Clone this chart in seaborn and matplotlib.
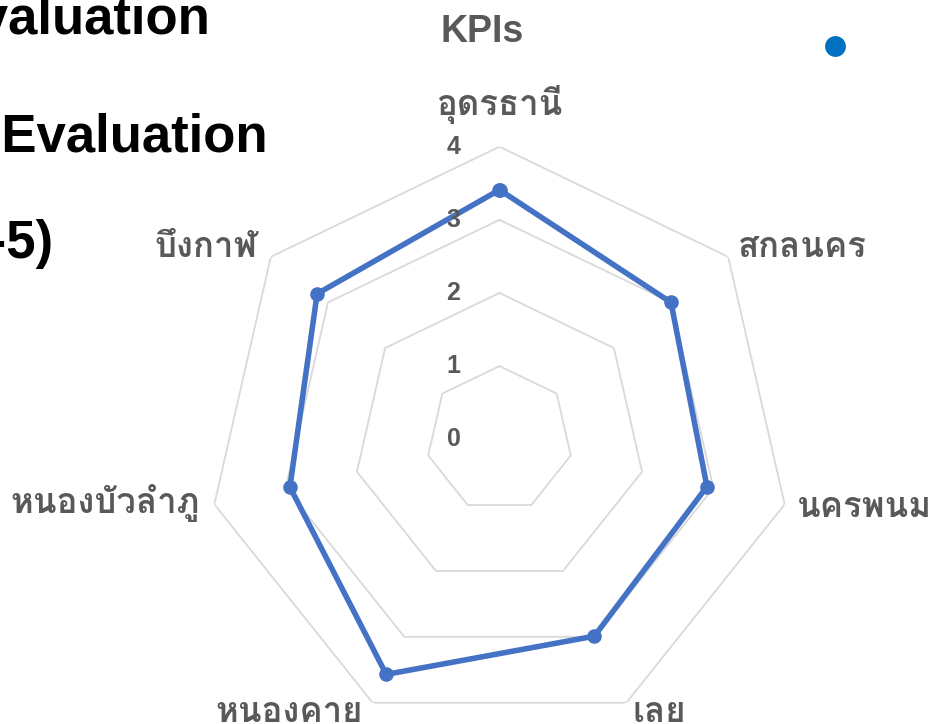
import numpy as np
import pandas as pd
import seaborn as sns
import matplotlib
matplotlib.use("Agg")
import matplotlib.pyplot as plt
from matplotlib import font_manager
from matplotlib.lines import Line2D
from fontTools.ttLib import TTFont

provinces = ["อุดรธานี", "สกลนคร", "นครพนม", "เลย", "หนองคาย", "หนองบัวลำภู", "บึงกาฬ"]
scores = [3.41, 3.00, 2.91, 2.99, 3.57, 2.94, 3.19]
levels = [0, 1, 2, 3, 4]
title_lines = ["Performance Evaluation", "KPI Evaluation", "Score (1-5)"]

W, H = 933, 724


def find_thai_font():
    # pick any installed family that has Thai glyphs
    for f in font_manager.fontManager.ttflist:
        try:
            tt = TTFont(f.fname, fontNumber=0, lazy=True)
            cmap = tt.getBestCmap()
            if cmap and 0x0E01 in cmap and 0x0E4C in cmap:
                return f.name
        except Exception:
            continue
    return "DejaVu Sans"


sns.set_theme(style="white")
thai_font = find_thai_font()
plt.rcParams['font.family'] = [thai_font, 'Liberation Sans', 'DejaVu Sans']

fig = plt.figure(figsize=(W / 100, H / 100), dpi=100)

cx, cy, R = 499.5, 439.2, 292.5
ax = fig.add_axes([(cx - R) / W, 1 - (cy + R) / H, 2 * R / W, 2 * R / H], projection='polar')
ax.set_theta_zero_location('N')
ax.set_theta_direction(-1)
ax.set_ylim(0, 4)
ax.grid(False)
ax.spines['polar'].set_visible(False)
ax.set_xticks([])
ax.set_yticks([])
ax.patch.set_alpha(0)

n = len(provinces)
theta = np.arange(n) * 2 * np.pi / n
df = pd.DataFrame({"theta": np.append(theta, theta[0] + 2 * np.pi),
                   "score": scores + scores[:1]})

# heptagon rings
for lv in levels[1:]:
    ax.plot(df["theta"], [lv] * len(df), color='#D9D9D9', lw=1.3, zorder=0)

sns.lineplot(data=df, x="theta", y="score", ax=ax, sort=False, estimator=None,
             color='#4472C4', linewidth=4, marker='o', markersize=10.5,
             markeredgewidth=0, zorder=3)
ax.set_xlabel("")
ax.set_ylabel("")

# radial value labels
for lv in levels:
    ax.annotate(str(lv), xy=(0, lv), xytext=(-46, 0), textcoords='offset pixels',
                ha='center', va='center', fontsize=18, fontweight='bold',
                color='#595959', family=['Liberation Sans', 'DejaVu Sans'])

# category labels
offsets = [(0, 32, 'center'), (10, 0, 'left'), (12, -13, 'left'), (6, -19, 'left'),
           (-10, -19, 'right'), (-14, -9, 'right'), (-13, 0, 'right')]
for name, t, (dx, dy, ha) in zip(provinces, theta, offsets):
    ax.annotate(name, xy=(t, 4), xytext=(dx, dy), textcoords='offset pixels',
                ha=ha, va='baseline', fontsize=25, fontweight='bold', color='#595959',
                annotation_clip=False)

# chart title pieces (partly outside the canvas)
fig.text(482 / W, 1 - 42 / H, "KPIs", ha='center', va='baseline', fontsize=27,
         fontweight='bold', color='#595959', family=['Liberation Sans', 'DejaVu Sans'])
for txt, (x, y) in zip(title_lines, [(210, 33), (268, 152), (53, 258)]):
    fig.text(x / W, 1 - y / H, txt, ha='right', va='baseline', fontsize=38,
             fontweight='bold', color='black', family=['Liberation Sans', 'DejaVu Sans'])

fig.legend(handles=[Line2D([], [], marker='o', color='#0070C0', linestyle='none',
                           markersize=15, markeredgewidth=0)],
           labels=[' '], loc='center', bbox_to_anchor=(838 / W, 1 - 47 / H),
           frameon=False, handletextpad=0)

fig.savefig("out.png", dpi=100)
